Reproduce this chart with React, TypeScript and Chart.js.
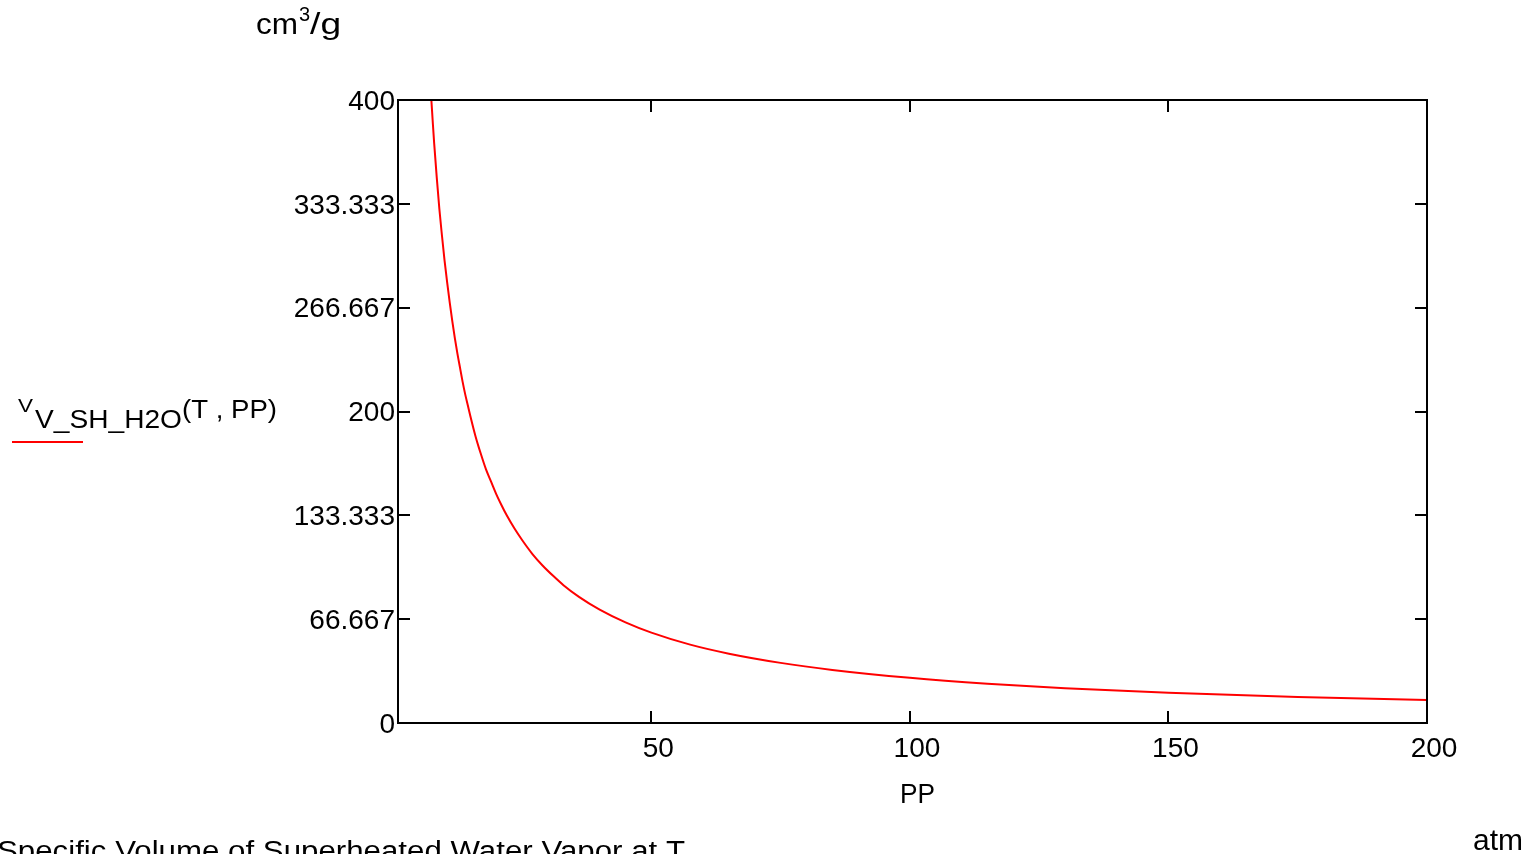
import React, { useEffect, useRef } from "react";
import { Chart, registerables } from "chart.js";

Chart.register(...registerables);

// ---- data ----
const PRESSURE_ATM = [7.2, 7.45, 7.7, 8, 8.5, 9, 9.5, 10, 10.5, 11, 11.5, 12, 12.5, 13, 13.5, 14, 14.5, 15, 16, 17, 18, 19, 20, 21, 22, 23.5, 25, 27, 29, 31, 33, 36, 40, 45, 50, 57.5, 65, 75, 85, 100, 115, 130, 150, 175, 200];
const VOLUME_CM3_PER_G = [410, 400, 387, 372, 350, 330, 313, 297, 283, 270, 258, 247, 237, 228, 219, 211, 204, 197, 184, 173, 163, 155, 147, 140, 133.5, 125, 117.5, 108.5, 101, 94.5, 88.5, 81, 72.8, 64.6, 58, 50.3, 44.5, 38.6, 34.1, 29, 25.2, 22.3, 19.4, 16.7, 14.7];

const X_TICKS = [50, 100, 150, 200];
const X_TICK_LABELS = ["50", "100", "150", "200"];
const Y_TICKS = [0, 66.667, 133.333, 200, 266.667, 333.333, 400];
const Y_TICK_LABELS = ["0", "66.667", "133.333", "200", "266.667", "333.333", "400"];
const X_MIN = 1;
const X_MAX = 200;
const Y_MIN = 0;
const Y_MAX = 400;

const X_TITLE = "PP";
const X_UNIT = "atm";
const Y_UNIT_MAIN = "cm";
const Y_UNIT_SUP = "3";
const Y_UNIT_TAIL = "/g";
const SERIES_BASE = "V";
const SERIES_SUB = "V_SH_H2O";
const SERIES_ARGS = "(T , PP)";
const CAPTION = "Specific Volume of Superheated Water Vapor at T";

const FONT = "'Liberation Sans', Arial, Helvetica, sans-serif";
const RED = "#ff0000";

function drawText(ctx: CanvasRenderingContext2D, text: string, x: number, y: number, size: number, width?: number, align: "left" | "center" = "left") {
  ctx.save();
  ctx.font = `${size}px ${FONT}`;
  ctx.fillStyle = "#000";
  ctx.textBaseline = "alphabetic";
  ctx.textAlign = "left";
  const m = ctx.measureText(text).width;
  const sx = width ? width / m : 1;
  const w = m * sx;
  const left = align === "center" ? x - w / 2 : x;
  ctx.translate(left, y);
  ctx.scale(sx, 1);
  ctx.fillText(text, 0, 0);
  ctx.restore();
  return left + w;
}

const framePlugin = {
  id: "mathcadFrame",
  afterDatasetsDraw(chart: any) {
    const { ctx, chartArea: a, scales } = chart;
    const xs = scales.x;
    const ys = scales.y;
    ctx.save();
    ctx.strokeStyle = "#000";
    ctx.lineWidth = 2;
    ctx.strokeRect(a.left, a.top, a.right - a.left, a.bottom - a.top);
    ctx.beginPath();
    const L = 12;
    for (const t of xs.ticks) {
      const px = Math.round(xs.getPixelForValue(t.value));
      ctx.moveTo(px, a.bottom);
      ctx.lineTo(px, a.bottom - L);
      ctx.moveTo(px, a.top);
      ctx.lineTo(px, a.top + L);
    }
    for (const t of ys.ticks) {
      const py = Math.round(ys.getPixelForValue(t.value));
      ctx.moveTo(a.left, py);
      ctx.lineTo(a.left + L, py);
      ctx.moveTo(a.right, py);
      ctx.lineTo(a.right - L, py);
    }
    ctx.stroke();
    ctx.restore();
  },
  afterDraw(chart: any) {
    const ctx: CanvasRenderingContext2D = chart.ctx;
    const a = chart.chartArea;
    // y unit
    let e = drawText(ctx, Y_UNIT_MAIN, 256, 34, 29, 42);
    e = drawText(ctx, Y_UNIT_SUP, e + 1, 21, 20);
    drawText(ctx, Y_UNIT_TAIL, e, 34, 29, 31);
    // series name
    drawText(ctx, SERIES_BASE, 18, 412, 18, 15);
    drawText(ctx, SERIES_SUB, 35, 428, 25, 147);
    drawText(ctx, SERIES_ARGS, 182, 418, 25, 95);
    ctx.save();
    ctx.strokeStyle = RED;
    ctx.lineWidth = 2;
    ctx.beginPath();
    ctx.moveTo(12, 442);
    ctx.lineTo(83, 442);
    ctx.stroke();
    ctx.restore();
    // x title and unit
    drawText(ctx, X_TITLE, (a.left + a.right) / 2 + 5, 803, 27, 35, "center");
    drawText(ctx, X_UNIT, 1473, 850, 29, 50);
    // caption
    drawText(ctx, CAPTION, -3, 860, 27, 688);
  },
};

export default function App() {
  const ref = useRef<HTMLCanvasElement | null>(null);

  useEffect(() => {
    if (!ref.current) return;
    const tickFont = { family: FONT, size: 28 };
    const chart = new Chart(ref.current, {
      type: "scatter",
      data: {
        datasets: [
          {
            label: SERIES_SUB,
            data: PRESSURE_ATM.map((p, i) => ({ x: p, y: VOLUME_CM3_PER_G[i] })),
            showLine: true,
            borderColor: RED,
            backgroundColor: RED,
            borderWidth: 2,
            pointRadius: 0,
            cubicInterpolationMode: "monotone",
          } as any,
        ],
      },
      options: {
        animation: false,
        responsive: false,
        devicePixelRatio: 1,
        layout: { padding: { left: 0, top: 100, right: 113, bottom: 0 } },
        plugins: { legend: { display: false }, tooltip: { enabled: false }, title: { display: false } },
        scales: {
          x: {
            type: "linear",
            min: X_MIN,
            max: X_MAX,
            border: { display: false },
            grid: { display: false, drawTicks: false },
            afterBuildTicks: (s: any) => {
              s.ticks = X_TICKS.map((v) => ({ value: v }));
            },
            afterFit: (s: any) => {
              s.height = 131;
            },
            ticks: {
              font: tickFont,
              color: "#000",
              padding: 9,
              labelOffset: 7,
              maxRotation: 0,
              autoSkip: false,
              callback: (_v: any, i: number) => X_TICK_LABELS[i],
            },
          },
          y: {
            type: "linear",
            min: Y_MIN,
            max: Y_MAX,
            border: { display: false },
            grid: { display: false, drawTicks: false },
            afterBuildTicks: (s: any) => {
              s.ticks = Y_TICKS.map((v) => ({ value: v }));
            },
            afterFit: (s: any) => {
              s.width = 398;
            },
            ticks: {
              font: tickFont,
              color: "#000",
              padding: 3,
              labelOffset: 2,
              autoSkip: false,
              callback: (_v: any, i: number) => Y_TICK_LABELS[i],
            },
          },
        },
      },
      plugins: [framePlugin],
    });
    return () => chart.destroy();
  }, []);

  return (
    <div style={{ position: "absolute", left: 0, top: 0, width: 1540, height: 854, overflow: "hidden", background: "#fff" }}>
      <canvas ref={ref} width={1540} height={854} style={{ display: "block", width: 1540, height: 854 }} />
    </div>
  );
}
